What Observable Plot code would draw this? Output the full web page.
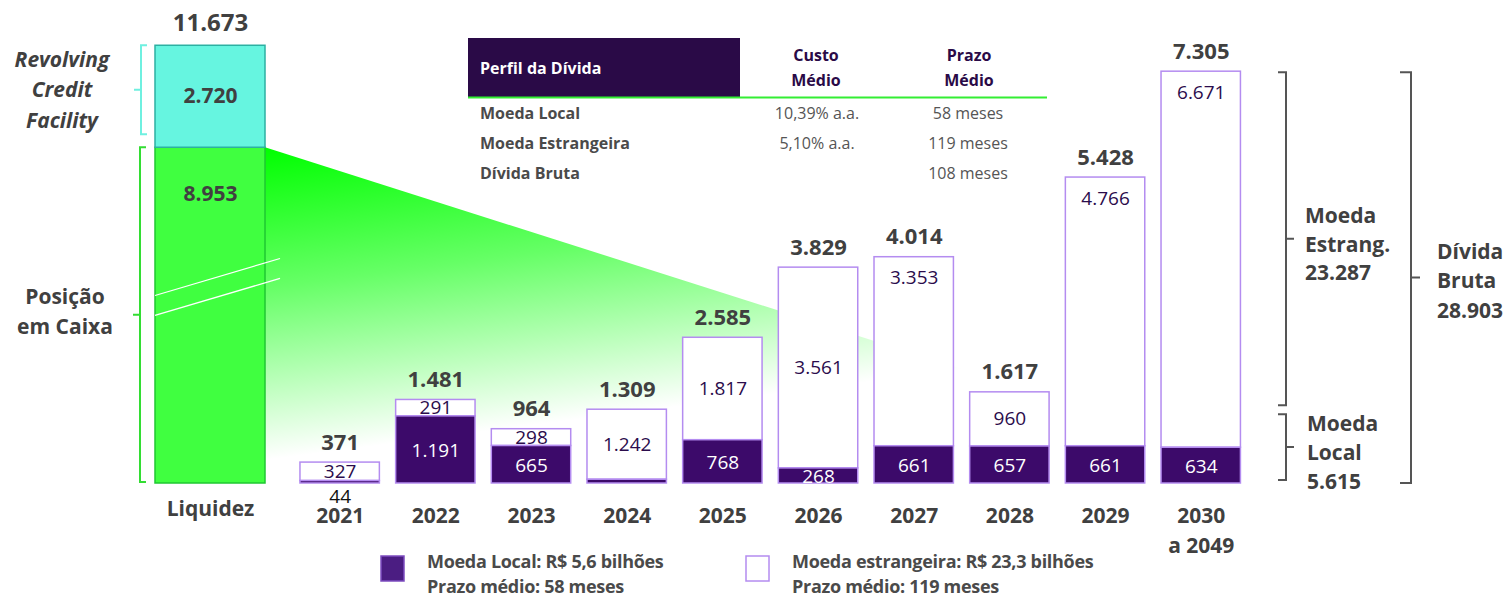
<!DOCTYPE html>
<html><head><meta charset="utf-8">
<script src="https://cdn.jsdelivr.net/npm/d3@7"></script>
<script src="https://cdn.jsdelivr.net/npm/@observablehq/plot@0.6"></script>
<style>
body{margin:0;background:#fff;font-family:"Open Sans",sans-serif;}
#wrap{position:relative;width:1508px;height:599px;overflow:hidden;background:#fff;}
#wrap svg{position:absolute;left:0;top:0;}
</style></head><body><div id="wrap"></div>
<script>
// ---------- data ----------
const years = ["2021","2022","2023","2024","2025","2026","2027","2028","2029","2030"];
const yearLabels = ["2021","2022","2023","2024","2025","2026","2027","2028","2029","2030\na 2049"];
const localDebt   = [44, 1191, 665, 67, 768, 268, 661, 657, 661, 634];
const foreignDebt = [327, 291, 298, 1242, 1817, 3561, 3353, 960, 4766, 6671];
const totalDebt   = [371, 1481, 964, 1309, 2585, 3829, 4014, 1617, 5428, 7305];
const showLocalLabel = [true, true, true, false, true, true, true, true, true, true];
const foreignLabelPos = ["mid","mid","mid","mid","mid","mid","top","mid","top","top"];

const liqCategory = "Liquidez";
const liqParts = ["Posição em Caixa", "Revolving Credit Facility"];
const liqValues = [8953, 2720];
const liqTotal = 11673;

const totalForeign = 23287, totalLocal = 5615, totalGross = 28903;

const tableHeader = ["Perfil da Dívida", "Custo\nMédio", "Prazo\nMédio"];
const tableRows = ["Moeda Local", "Moeda Estrangeira", "Dívida Bruta"];
const tableCusto = ["10,39% a.a.", "5,10% a.a.", ""];
const tablePrazo = ["58 meses", "119 meses", "108 meses"];

const legendItems = [
  ["Moeda Local: R$ 5,6 bilhões", "Prazo médio: 58 meses"],
  ["Moeda estrangeira: R$ 23,3 bilhões", "Prazo médio: 119 meses"]
];

// ---------- setup ----------
const W = 1508, H = 599, BASE = 483;
const fmt = d3.formatLocale({decimal: ",", thousands: ".", grouping: [3], currency: ["R$ ", ""]}).format(",d");
const FONT = "Open Sans";
const DARK = "#3c0a6a", LIGHT = "#b48cf0", TXT = "#404040";

const rows = years.map((y, i) => ({
  year: y, label: yearLabels[i], local: localDebt[i], foreign: foreignDebt[i], total: totalDebt[i],
  showLocal: showLocalLabel[i], fpos: foreignLabelPos[i]
}));
let acc = 0;
const liqRows = liqParts.map((p, i) => { const r = {cat: liqCategory, part: p, y1: acc, y2: acc + liqValues[i], v: liqValues[i]}; acc += liqValues[i]; return r; });

const wrap = document.getElementById("wrap");

// bottom layer: gradient wedge
const bg = d3.select(wrap).append("svg").attr("width", W).attr("height", H);

// liquidez chart
const liq = Plot.plot({
  width: W, height: H, margin: 0,
  style: {background: "transparent", fontFamily: FONT, overflow: "visible"},
  x: {type: "band", domain: [liqCategory], range: [155, 265], padding: 0, round: false, axis: null},
  y: {domain: [0, 12000], range: [BASE, 33], axis: null},
  marks: [
    Plot.barY(liqRows, {x: "cat", y1: "y1", y2: "y2",
      fill: d => d.part === liqParts[0] ? "#40ff40" : "#66f5e0",
      stroke: d => d.part === liqParts[0] ? "#1fc832" : "#2cb0a2", strokeWidth: 1.5}),
    Plot.text(liqRows.filter(d => d.part === liqParts[0]), {x: "cat", y: "y2", text: d => fmt(d.v), dy: 47, fontSize: 21, fontWeight: 700, fill: TXT}),
    Plot.text(liqRows.filter(d => d.part === liqParts[1]), {x: "cat", y: d => (d.y1 + d.y2) / 2, text: d => fmt(d.v), fontSize: 21, fontWeight: 700, fill: TXT}),
    Plot.text([liqTotal], {x: () => liqCategory, y: d => d, text: d => fmt(d), dy: -22, fontSize: 24, fontWeight: 700, fill: TXT}),
    Plot.text([liqCategory], {x: d => d, y: () => 0, text: d => d, lineAnchor: "top", dy: 18, fontSize: 21, fontWeight: 700, fill: TXT})
  ]
});
wrap.appendChild(liq);

// debt chart
const debt = Plot.plot({
  width: W, height: H, margin: 0,
  style: {background: "transparent", fontFamily: FONT, overflow: "visible"},
  x: {type: "band", domain: years, range: [283.7, 1256.7], padding: 0.17, round: false, axis: null},
  y: {domain: [0, 8000], range: [BASE, 32], axis: null},
  marks: [
    Plot.barY(rows, {x: "year", y1: "local", y2: d => d.local + d.foreign, fill: "white", stroke: LIGHT, strokeWidth: 1.5}),
    Plot.barY(rows, {x: "year", y1: 0, y2: "local", fill: DARK, stroke: LIGHT, strokeWidth: 1.5}),
    Plot.text(rows, {x: "year", y: "total", text: d => fmt(d.total), dy: -20, fontSize: 22, fontWeight: 700, fill: TXT}),
    Plot.text(rows.filter(d => d.fpos === "mid"), {x: "year", y: d => d.local + d.foreign / 2, text: d => fmt(d.foreign), fontSize: 19, fill: "#2b0c4c"}),
    Plot.text(rows.filter(d => d.fpos === "top"), {x: "year", y: d => d.local + d.foreign, text: d => fmt(d.foreign), dy: 21, fontSize: 19, fill: "#2b0c4c"}),
    Plot.text(rows.filter(d => d.showLocal && d.local >= 150), {x: "year", y: d => d.local / 2, text: d => fmt(d.local), dy: 1, fontSize: 19, fill: "white"}),
    Plot.text(rows.filter(d => d.showLocal && d.local < 150), {x: "year", y: 0, text: d => fmt(d.local), dy: 13, fontSize: 19, fill: "#111"}),
    Plot.text(rows, {x: "year", y: () => 0, text: "label", lineAnchor: "top", dy: 18, lineHeight: 1.43, fontSize: 21, fontWeight: 700, fill: TXT})
  ]
});
wrap.appendChild(debt);

// ---------- decorations / annotations ----------
const xL = liq.scale("x"), yL = liq.scale("y"), xD = debt.scale("x"), yD = debt.scale("y");
const liqLeft = xL.apply(liqCategory), liqRight = liqLeft + xL.bandwidth;

// gradient wedge from top of cash position toward 2028
const defs = bg.append("defs");
const grad = defs.append("linearGradient").attr("id", "wedge").attr("gradientUnits", "userSpaceOnUse")
  .attr("x1", liqRight).attr("y1", yL.apply(liqValues[0])).attr("x2", liqRight + 40).attr("y2", 455);
grad.append("stop").attr("offset", 0).attr("stop-color", "#00ff00").attr("stop-opacity", 1);
grad.append("stop").attr("offset", 0.45).attr("stop-color", "#00ff00").attr("stop-opacity", 0.6);
grad.append("stop").attr("offset", 1).attr("stop-color", "#00ff00").attr("stop-opacity", 0);
const wy0 = yL.apply(liqValues[0]);
const wx1 = xD.apply("2028") + xD.bandwidth * 0.45;
const wy1 = wy0 + (wx1 - liqRight) * 0.318;
bg.append("path").attr("d", `M${liqRight},${wy0}L${wx1},${wy1}L${wx1},${BASE}L${liqRight},${BASE}Z`).attr("fill", "url(#wedge)");

const ov = d3.select(wrap).append("svg").attr("width", W).attr("height", H)
  .style("font-family", FONT).style("pointer-events", "none");

// break lines on liquidez bar
[5000, 4470].forEach(v => {
  const y = yL.apply(v);
  ov.append("line").attr("x1", liqLeft).attr("y1", y).attr("x2", liqRight + 15).attr("y2", y - 37)
    .attr("stroke", "white").attr("stroke-width", 1.3);
});

function leftBracket(x, y0, y1, color) {
  const ym = (y0 + y1) / 2;
  ov.append("path").attr("d", `M${x + 6},${y0}H${x}V${y1}H${x + 6}M${x},${ym}H${x - 7}`)
    .attr("fill", "none").attr("stroke", color).attr("stroke-width", 2);
}
function rightBracket(x, y0, y1, cap, tick) {
  const ym = (y0 + y1) / 2;
  ov.append("path").attr("d", `M${x - cap},${y0}H${x}V${y1}H${x - cap}M${x},${ym}H${x + tick}`)
    .attr("fill", "none").attr("stroke", "#555").attr("stroke-width", 2);
}
leftBracket(liqLeft - 14, yL.apply(liqTotal), yL.apply(liqValues[0]) - 13, "#6ff0e0");
leftBracket(liqLeft - 15, yL.apply(liqValues[0]), BASE - 1, "#33dd33");

function lines(x, ys, arr, opts) {
  arr.forEach((t, i) => {
    const el = ov.append("text").attr("x", x).attr("y", ys[i]).attr("dy", "0.35em")
      .attr("text-anchor", opts.anchor || "middle").attr("font-size", opts.size || 21)
      .attr("font-weight", opts.weight || 700).attr("fill", opts.fill || TXT).text(t);
    if (opts.italic) el.attr("font-style", "italic");
  });
}
lines(62, [60, 90, 121], ["Revolving", "Credit", "Facility"], {italic: true});
lines(65, [297, 327], ["Posição", "em Caixa"], {});

// right brackets (scale of total gross debt)
const sB = d3.scaleLinear().domain([0, totalGross]).range([BASE, yD.apply(totalDebt[totalDebt.length - 1]) + 1]);
rightBracket(1286, sB(totalGross), sB(totalLocal) + 2, 8, 8);
rightBracket(1286, sB(totalLocal) + 11, sB(0) - 3, 8, 8);
rightBracket(1411, sB(totalGross), sB(0), 11, 9);
lines(1305, [216, 245, 273], ["Moeda", "Estrang.", " " + fmt(totalForeign)], {anchor: "start"});
lines(1307, [424, 453, 482], ["Moeda", "Local", " " + fmt(totalLocal)], {anchor: "start"});
lines(1437, [252, 281, 311], ["Dívida", "Bruta", fmt(totalGross)], {anchor: "start"});

// table
ov.append("rect").attr("x", 468).attr("y", 38).attr("width", 272).attr("height", 59).attr("fill", "#2a0a47");
ov.append("line").attr("x1", 468).attr("x2", 1047).attr("y1", 97.5).attr("y2", 97.5).attr("stroke", "#33ee33").attr("stroke-width", 2);
lines(480, [68], [tableHeader[0]], {anchor: "start", size: 16, fill: "white"});
lines(816, [55, 80], tableHeader[1].split("\n"), {size: 16, fill: "#2a0a47"});
lines(969, [55, 80], tableHeader[2].split("\n"), {size: 16, fill: "#2a0a47"});
tableRows.forEach((r, i) => {
  const y = 113 + i * 30;
  lines(480, [y], [r], {anchor: "start", size: 16, fill: "#4a4a4a"});
  if (tableCusto[i]) lines(817, [y], [tableCusto[i]], {size: 16, weight: 400, fill: "#555"});
  lines(968, [y], [tablePrazo[i]], {size: 16, weight: 400, fill: "#555"});
});

// legend
const legX = [381, 746];
legendItems.forEach((item, i) => {
  ov.append("rect").attr("x", legX[i]).attr("y", 556).attr("width", 23).attr("height", 25)
    .attr("fill", i === 0 ? "#4b1d82" : "white").attr("stroke", i === 0 ? "#7d4cc0" : LIGHT).attr("stroke-width", 1.5);
  ov.append("text").attr("x", legX[i] + 46).attr("y", 562).attr("dy", "0.35em").attr("font-size", 18)
    .attr("font-weight", 700).attr("fill", "#4a4a4a").attr("letter-spacing", -0.3).text(item[0]);
  ov.append("text").attr("x", legX[i] + 46).attr("y", 587).attr("dy", "0.35em").attr("font-size", 18)
    .attr("font-weight", 700).attr("fill", "#4a4a4a").attr("letter-spacing", -0.3).text(item[1]);
});
</script></body></html>
